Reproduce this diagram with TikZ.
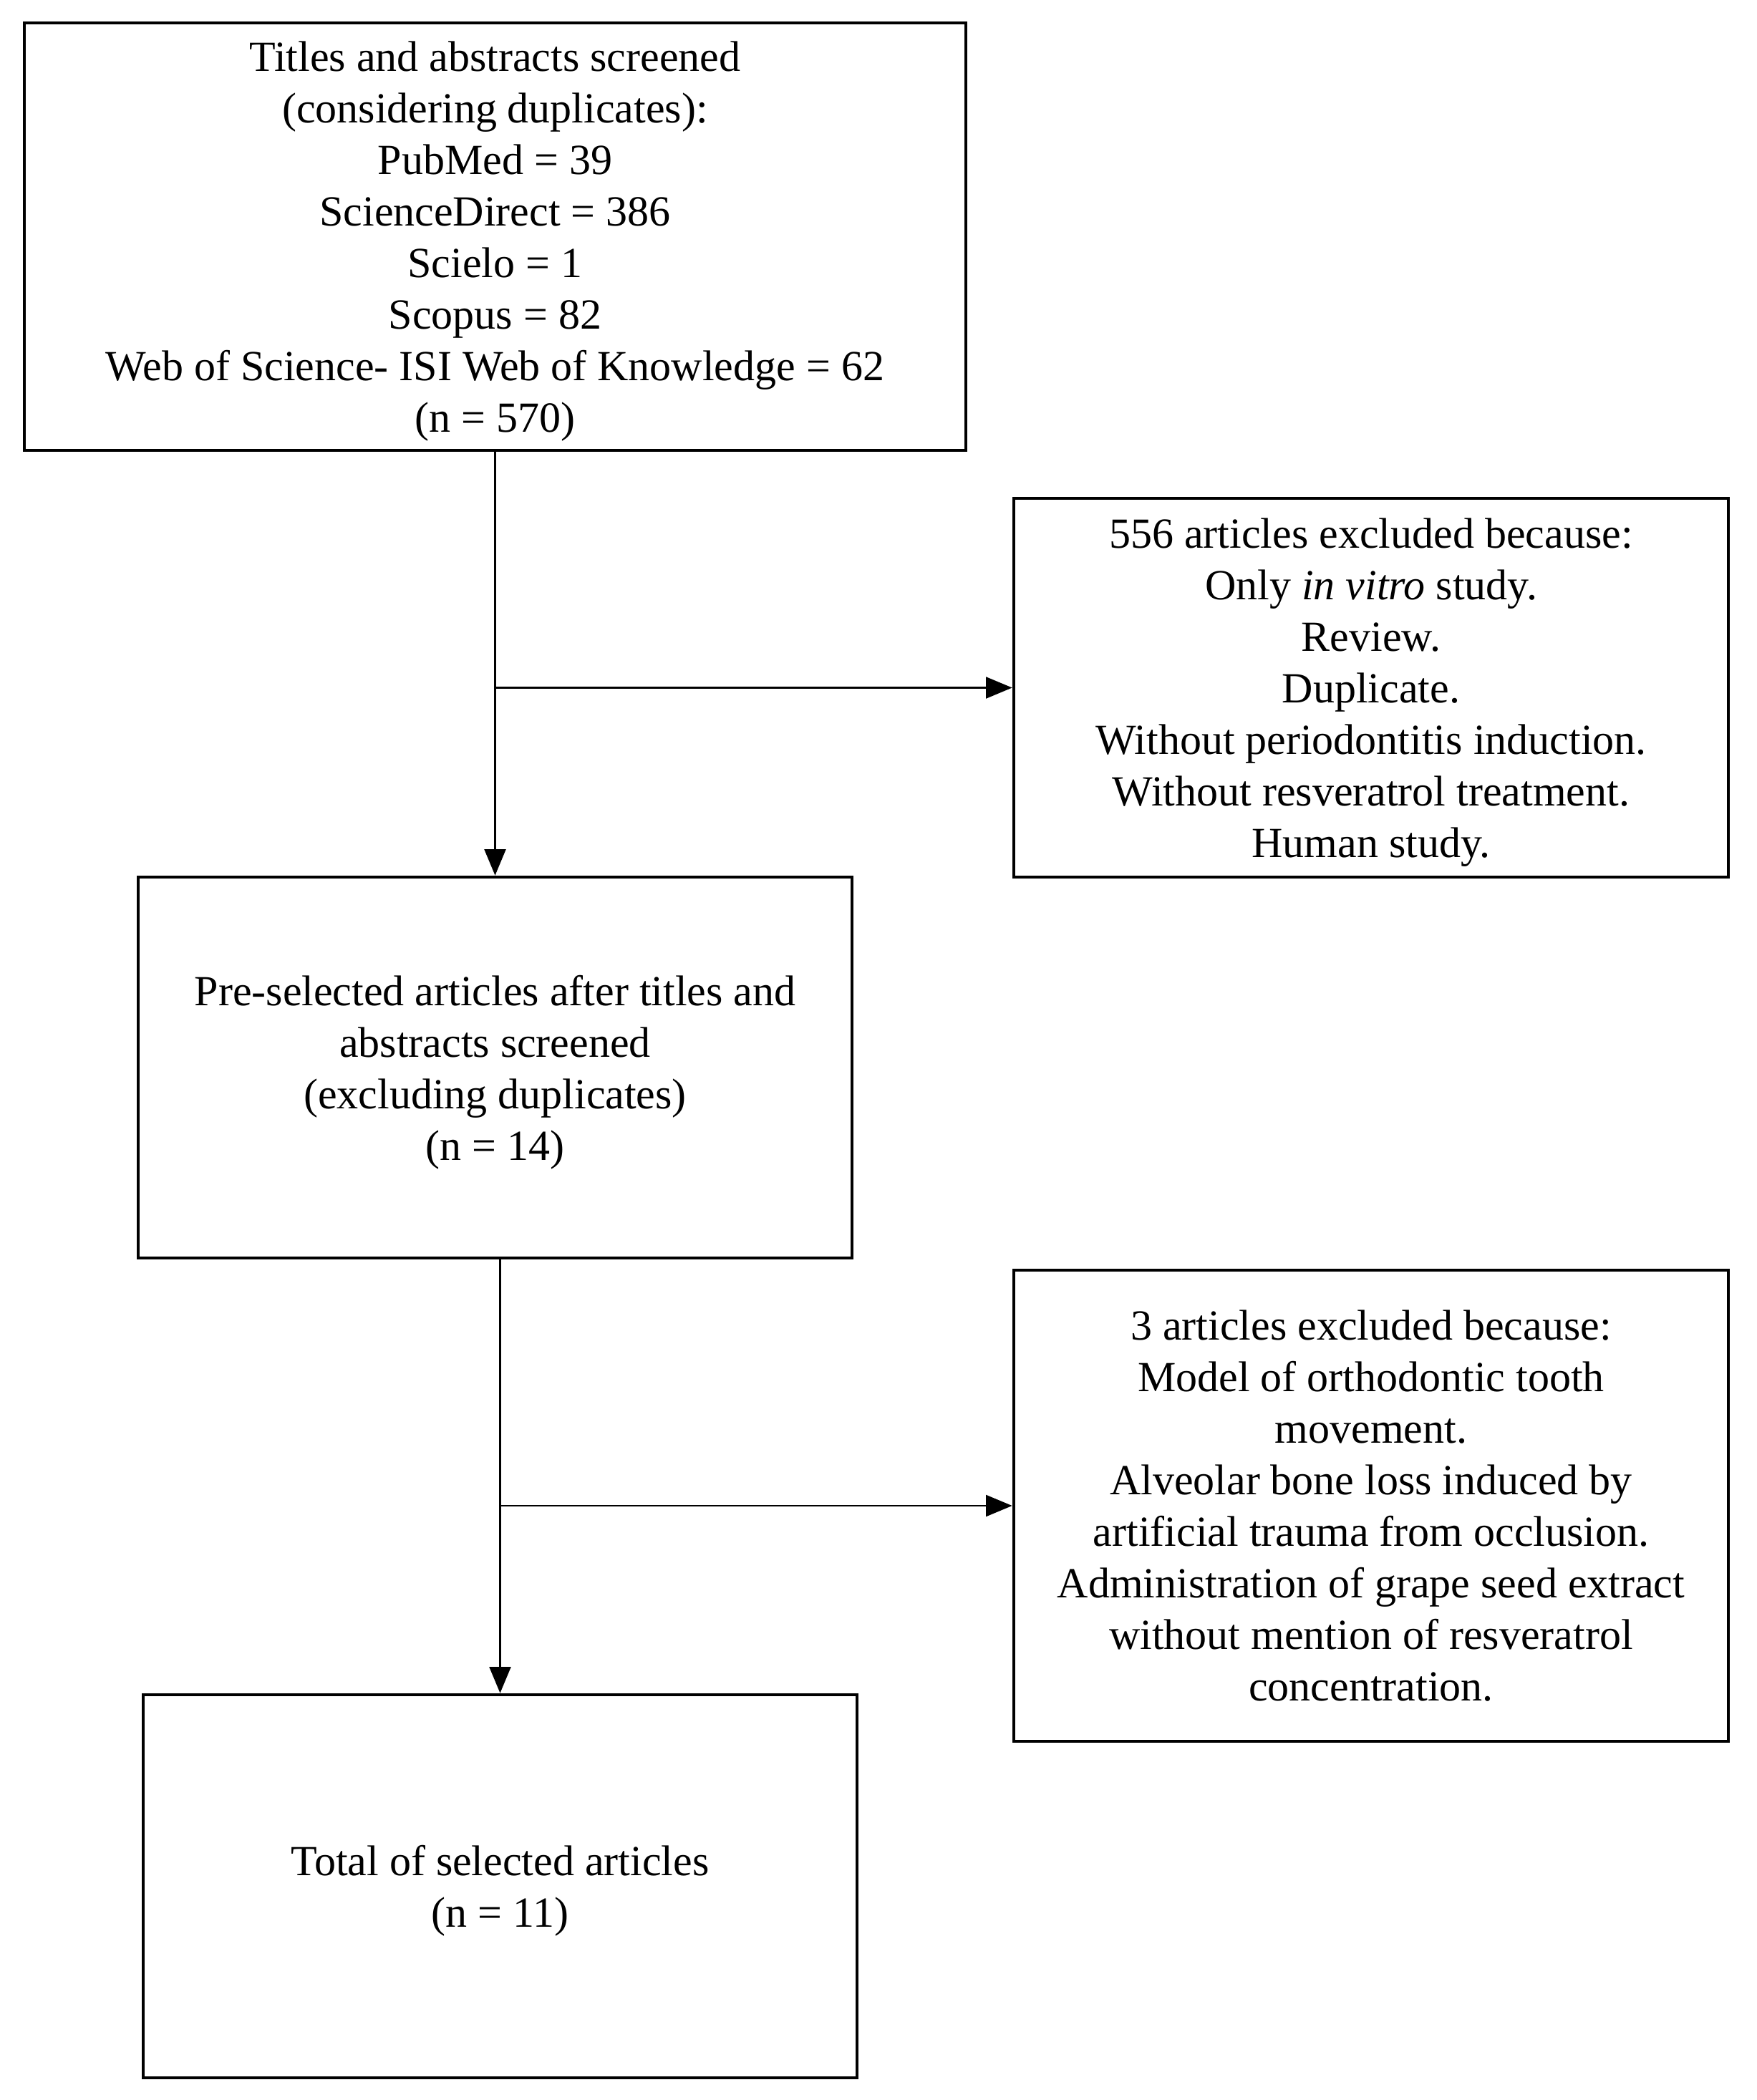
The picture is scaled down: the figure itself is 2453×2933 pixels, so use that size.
\documentclass[tikz,border=0pt]{standalone}
\usepackage{fontspec}
\setmainfont{Liberation Serif}
\usetikzlibrary{arrows.meta}

\tikzset{
  box/.style={draw, line width=1.4pt, align=center, inner sep=0pt, text depth=-2pt,
    font=\fontsize{18}{21.6}\selectfont},
  arr/.style={line width=0.7pt, -{Triangle[length=11pt,width=9pt]}},
}

\begin{document}
\begin{tikzpicture}[x=0.3pt,y=0.3pt,yscale=-1]
\useasboundingbox (0,0) rectangle (2453,2933);

%Box: titles and abstracts screened
\node [box, minimum width=394.5pt, minimum height=179.1pt] (screened) at (691.5,330.5) {Titles and abstracts screened\\(considering duplicates):\\PubMed = 39\\ScienceDirect = 386\\Scielo = 1\\Scopus = 82\\Web of Science- ISI Web of Knowledge = 62\\(n = 570)};
%Box: first exclusion
\node [box, minimum width=299.4pt, minimum height=158.7pt] (excluded1) at (1915,960.5) {556 articles excluded because:\\Only \textit{in vitro} study.\\Review.\\Duplicate.\\Without periodontitis induction.\\Without resveratrol treatment.\\Human study.};
%Box: pre-selected
\node [box, minimum width=299.1pt, minimum height=159.6pt] (preselected) at (691.5,1491) {Pre-selected articles after titles and\\abstracts screened\\(excluding duplicates)\\(n = 14)};
%Box: second exclusion
\node [box, minimum width=299.4pt, minimum height=197.4pt] (excluded2) at (1915,2103) {3 articles excluded because:\\Model of orthodontic tooth\\movement.\\Alveolar bone loss induced by\\artificial trauma from occlusion.\\Administration of grape seed extract\\without mention of resveratrol\\concentration.};
%Box: selected
\node [box, minimum width=299.1pt, minimum height=160.5pt] (selected) at (698.5,2634.5) {Total of selected articles\\(n = 11)};

%Straight Lines
\draw [arr] (screened.south) -- (preselected.north);
\draw [arr] (screened.south |- excluded1.west) -- (excluded1.west);
\draw [arr] (selected.north |- preselected.south) -- (selected.north);
\draw [arr] (selected.north |- excluded2.west) -- (excluded2.west);

\end{tikzpicture}
\end{document}
